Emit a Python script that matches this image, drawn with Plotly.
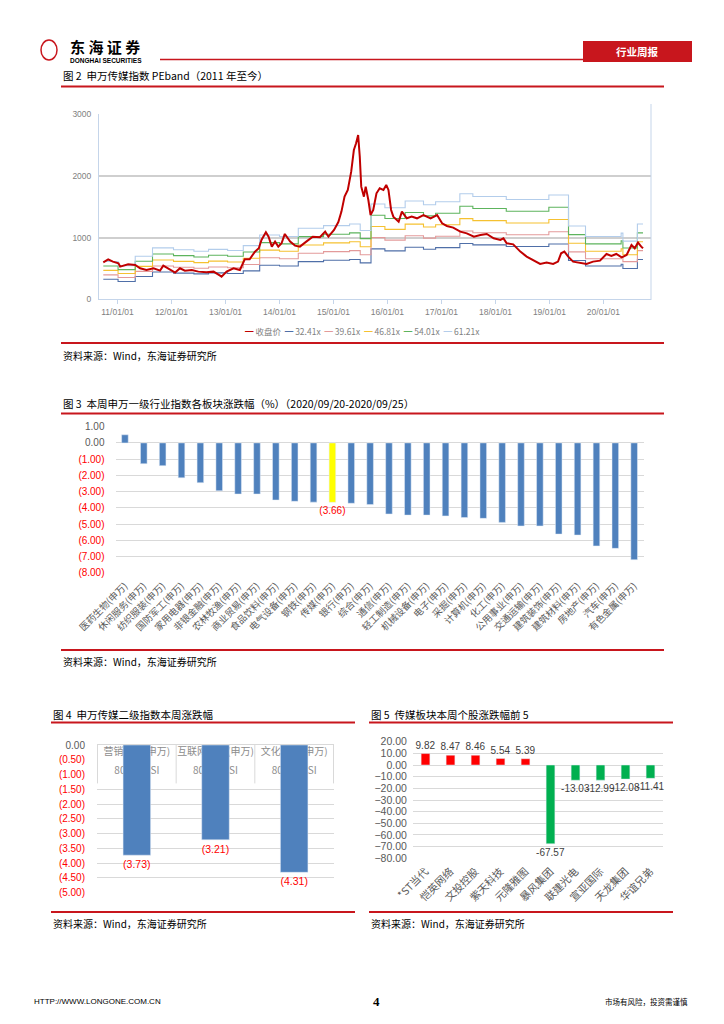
import plotly.graph_objects as go

# page is 724x1024; the html body adds an 8px margin, so the figure is 716x1016
W, H, OFF = 716, 1016, 8
CJK = "Noto Sans CJK SC"
NUM = "Liberation Sans"
NARROW = "Liberation Sans Narrow, Liberation Sans"
RED = "#C8161D"
GRID = "#D9D9D9"


def px(x):
    return (x - OFF) / W


def py(y):
    return 1 - (y - OFF) / H


# ---- 图2: 申万传媒指数 PEband ----
close_dates = [
    "2010-09-27", "2010-10-30", "2010-12-01",
    "2011-01-08", "2011-01-19", "2011-02-10", "2011-03-14", "2011-05-01", "2011-06-03",
    "2011-07-16", "2011-09-02", "2011-10-16", "2011-11-07", "2011-12-20",
    "2012-01-26", "2012-02-28", "2012-04-01", "2012-05-18", "2012-07-01", "2012-08-25",
    "2012-10-12", "2012-11-25", "2012-12-05",
    "2013-01-08", "2013-02-24", "2013-04-08", "2013-05-11", "2013-06-13", "2013-07-19",
    "2013-08-14", "2013-09-01", "2013-10-01", "2013-10-19", "2013-11-10", "2013-12-02", "2013-12-24",
    "2014-01-15", "2014-02-06", "2014-03-14", "2014-04-16", "2014-05-19", "2014-07-01",
    "2014-08-14", "2014-10-01", "2014-11-06", "2014-11-28",
    "2015-01-05", "2015-02-03", "2015-02-24", "2015-03-17", "2015-04-08", "2015-05-01",
    "2015-05-19", "2015-06-03", "2015-06-17", "2015-06-28", "2015-07-08", "2015-07-26",
    "2015-08-07", "2015-08-25", "2015-09-09", "2015-09-27", "2015-10-19", "2015-11-10",
    "2015-12-05", "2015-12-24",
    "2016-01-08", "2016-01-26", "2016-02-10", "2016-03-17", "2016-04-08", "2016-05-11",
    "2016-06-13", "2016-07-19", "2016-09-01", "2016-10-19", "2016-12-02",
    "2017-01-05", "2017-02-06", "2017-03-21", "2017-05-08", "2017-06-21", "2017-08-08",
    "2017-09-21", "2017-11-03", "2017-12-20",
    "2018-02-03", "2018-02-24", "2018-03-18", "2018-05-01", "2018-06-18", "2018-07-31",
    "2018-09-13", "2018-10-30", "2018-12-13",
    "2019-01-26", "2019-02-28", "2019-03-21", "2019-04-12", "2019-05-08", "2019-06-10",
    "2019-07-24", "2019-09-09", "2019-10-23", "2019-12-09",
    "2020-01-22", "2020-02-24", "2020-03-28", "2020-05-04", "2020-06-06", "2020-07-09",
    "2020-07-31", "2020-08-22", "2020-09-13", "2020-09-25",
]
close_vals = [
    599, 648, 610,
    583, 529, 545, 567, 556, 502, 475, 502, 464, 545, 486,
    432, 502, 464, 475, 448, 437, 448, 383, 367,
    448, 502, 475, 648, 648, 772, 826, 960, 1085, 1014, 853, 934, 853,
    907, 1058, 934, 869, 853, 934, 1014, 1004, 1095, 1014,
    1122, 1250, 1420, 1662, 1770, 2067, 2417, 2525, 2660, 2310, 1824, 1662, 1824, 1608,
    1365, 1446, 1716, 1797, 1770, 1851,
    1770, 1446, 1338, 1257, 1419, 1311, 1338, 1311, 1365, 1311, 1365,
    1230, 1187, 1160, 1095, 1068, 1014, 1041, 1058, 987,
    960, 987, 907, 890, 772, 691, 637, 572, 594,
    572, 610, 745, 772, 691, 610, 594, 572, 610, 626,
    734, 702, 734, 680, 718, 880, 826, 918, 853, 826,
]
# EPS steps (band = EPS x PE multiple)
eps_dates = [
    "2010-09-27", "2011-01-05", "2011-05-01", "2011-08-26", "2012-01-15", "2012-06-01",
    "2012-09-08", "2013-01-15", "2013-05-01", "2013-08-20", "2014-01-01", "2014-05-08",
    "2014-10-26", "2015-04-20", "2015-07-01", "2015-09-12", "2015-12-15", "2016-04-30",
    "2016-09-01", "2016-11-22", "2017-05-05", "2017-08-01", "2018-03-15", "2018-12-28",
    "2019-05-10", "2019-09-02", "2020-04-30", "2020-05-12", "2020-08-18", "2020-09-25",
]
eps_vals = [
    10.0, 8.9, 11.4, 13.6, 13.1, 12.7, 13.2, 12.9, 14.2, 17.0, 16.6, 18.8,
    19.5, 19.9, 18.2, 25.2, 24.2, 26.0, 25.0, 25.8, 27.9, 27.2, 26.4, 27.6,
    19.4, 16.6, 17.5, 15.4, 19.9, 19.9,
]
pe_multiples = [32.41, 39.61, 46.81, 54.01, 61.21]
band_names = ["32.41x", "39.61x", "46.81x", "54.01x", "61.21x"]
band_colors = ["#4F6FA8", "#E39A9A", "#F5C131", "#5DB45D", "#B3CDEB"]

# ---- 图3: 申万一级行业 ----
sw_industries = [
    "医药生物(申万)", "休闲服务(申万)", "纺织服装(申万)", "国防军工(申万)", "家用电器(申万)",
    "非银金融(申万)", "农林牧渔(申万)", "商业贸易(申万)", "食品饮料(申万)", "电气设备(申万)",
    "钢铁(申万)", "传媒(申万)", "银行(申万)", "综合(申万)", "通信(申万)", "轻工制造(申万)",
    "机械设备(申万)", "电子(申万)", "采掘(申万)", "计算机(申万)", "化工(申万)",
    "公用事业(申万)", "交通运输(申万)", "建筑装饰(申万)", "建筑材料(申万)", "房地产(申万)",
    "汽车(申万)", "有色金属(申万)",
]
sw_changes = [
    0.50, -1.28, -1.40, -2.15, -2.45, -2.95, -3.15, -3.15, -3.52, -3.60,
    -3.65, -3.66, -3.72, -3.80, -4.38, -4.45, -4.45, -4.50, -4.60, -4.65,
    -4.90, -5.12, -5.12, -5.62, -5.68, -6.35, -6.50, -7.20,
]
highlight = "传媒(申万)"

# ---- 图4: 申万传媒二级 ----
sub_names = ["营销传播(申万)", "互联网传媒(申万)", "文化传媒(申万)"]
sub_codes = ["801751.SI", "801752.SI", "801761.SI"]
sub_changes = [-3.73, -3.21, -4.31]

# ---- 图5: 个股涨跌幅前5 ----
stock_names = ["*ST当代", "恺英网络", "文投控股", "紫天科技", "元隆雅图",
               "暴风集团", "联建光电", "宣亚国际", "天龙集团", "华谊兄弟"]
stock_changes = [9.82, 8.47, 8.46, 5.54, 5.39, -67.57, -13.03, -12.99, -12.08, -11.41]


def paren(v):
    return f"({abs(v):.2f})" if v < 0 else f"{abs(v):.2f}"


def red_ticks(vals):
    return [f'<span style="color:#FF0000">{paren(v)}</span>' if v < 0 else paren(v)
            for v in vals]


fig = go.Figure()

# PE band lines
for mult, name, col in zip(pe_multiples, band_names, band_colors):
    fig.add_trace(go.Scatter(
        x=eps_dates, y=[e * mult for e in eps_vals], mode="lines", line_shape="hv",
        line=dict(color=col, width=1.1), name=name, xaxis="x", yaxis="y",
    ))
fig.add_trace(go.Scatter(
    x=close_dates, y=close_vals, mode="lines", line=dict(color="#C00000", width=2),
    name="收盘价", xaxis="x", yaxis="y",
))

# Fig 3 bars
fig.add_trace(go.Bar(
    x=sw_industries, y=sw_changes, xaxis="x2", yaxis="y2",
    marker=dict(color=["#FFFF00" if n == highlight else "#4F81BD" for n in sw_industries]),
    text=[paren(v) if n == highlight else "" for n, v in zip(sw_industries, sw_changes)],
    textposition="outside", textfont=dict(color="#FF0000", size=10, family=NUM),
    constraintext="none", cliponaxis=False,
))

# Fig 4 bars (category labels sit inside the plot, under the bars)
fig.add_trace(go.Bar(
    x=sub_names, y=sub_changes, xaxis="x3", yaxis="y3",
    marker=dict(color="#4F81BD"),
    text=[paren(v) for v in sub_changes], textposition="outside",
    textfont=dict(color="#FF0000", size=10.5, family=NUM),
    constraintext="none", cliponaxis=False,
))
# carriers: grid of fig 4 below the label band, and its value axis labels
fig.add_trace(go.Scatter(x=[], y=[], xaxis="x3", yaxis="y5", showlegend=False))
fig.add_trace(go.Scatter(x=[], y=[], xaxis="x6", yaxis="y6", showlegend=False))

# Fig 5 bars
fig.add_trace(go.Bar(
    x=stock_names, y=stock_changes, xaxis="x4", yaxis="y4",
    marker=dict(color=["#FF0000" if v > 0 else "#00B050" for v in stock_changes]),
    texttemplate="%{y:.2f}", textposition="outside",
    textfont=dict(color="#404040", size=10, family=NUM),
    constraintext="none", cliponaxis=False,
))

tick_font = dict(family=NUM, size=10, color="#595959")
fig4_ticks = [-0.5 * i for i in range(11)]
fig4_dom = [py(892.7), py(745)]

fig.update_layout(
    width=W, height=H, margin=dict(l=0, r=0, t=0, b=0),
    paper_bgcolor="white", plot_bgcolor="rgba(0,0,0,0)", showlegend=False,
    bargap=0.65,
    xaxis=dict(
        domain=[px(99), px(651)], anchor="y", type="date",
        range=["2010-08-29", "2020-11-18"], tick0="2011-01-01", dtick="M12",
        tickformat="%y/%m/%d", tickfont=dict(family=NARROW, size=8.5, color="#7F7F7F"),
        showgrid=False, showline=True, linecolor="#C5D5EA", linewidth=1,
        ticks="outside", ticklen=4, tickcolor="#C5D5EA",
    ),
    yaxis=dict(
        domain=[py(299.3), py(114)], anchor="x", range=[0, 3000],
        tickvals=[0, 1000, 2000, 3000], tickfont=dict(family=NARROW, size=8.5, color="#7F7F7F"),
        gridcolor="#CFCFCF", gridwidth=1.5, zeroline=False,
        showline=True, linecolor="#C5D5EA", ticks="outside", ticklen=5,
        tickcolor="rgba(0,0,0,0)",
    ),
    xaxis2=dict(
        domain=[px(115.5), px(643.6)], anchor="y2", type="category",
        tickangle=-45, tickfont=dict(family=CJK, size=9.5, color="#595959"),
        showgrid=False, showline=False, ticks="outside", ticklen=3,
        tickcolor="rgba(0,0,0,0)",
    ),
    yaxis2=dict(
        domain=[py(572.7), py(426.7)], anchor="x2", range=[-8, 1],
        tickvals=list(range(1, -9, -1)), ticktext=red_ticks(range(1, -9, -1)),
        tickfont=tick_font, gridcolor=GRID, zeroline=False,
        ticks="outside", ticklen=8, tickcolor="rgba(0,0,0,0)",
    ),
    xaxis3=dict(
        domain=[px(97), px(334)], anchor="y3", type="category", side="top",
        ticklabelposition="inside", layer="below traces",
        tickvals=sub_names,
        ticktext=[f'<span style="font-size:10px">{n}</span><br>'
                  f'<span style="font-size:10px">{c}</span>'
                  for n, c in zip(sub_names, sub_codes)],
        tickfont=dict(family=CJK, size=14.6, color="#8C8C8C"),
        showline=True, linecolor=GRID, showgrid=False, ticks="",
    ),
    yaxis3=dict(
        domain=fig4_dom, anchor="x3", range=[-5, 0],
        showticklabels=False, showgrid=False, zeroline=False, ticks="",
    ),
    yaxis5=dict(
        overlaying="y3", anchor="x3", range=[-5, 0],
        tickvals=fig4_ticks[3:], showticklabels=False,
        gridcolor=GRID, zeroline=False, showline=False, ticks="",
    ),
    xaxis6=dict(domain=[px(95), px(96)], anchor="y6", range=[0, 1], visible=False),
    yaxis6=dict(
        domain=fig4_dom, anchor="x6", range=[-5, 0],
        tickvals=fig4_ticks, ticktext=red_ticks(fig4_ticks),
        tickfont=tick_font, showgrid=False, zeroline=False, showline=False,
        ticks="outside", ticklen=7, tickcolor="rgba(0,0,0,0)",
    ),
    xaxis4=dict(
        domain=[px(413), px(663)], anchor="y4", type="category",
        tickangle=-45, tickfont=dict(family=CJK, size=10.5, color="#595959"),
        showgrid=False, showline=False, ticks="outside", ticklen=2,
        tickcolor="rgba(0,0,0,0)",
    ),
    yaxis4=dict(
        domain=[py(858.3), py(741.7)], anchor="x4", range=[-80, 20], dtick=10,
        tickformat=".2f", tickfont=dict(family=NUM, size=10.5, color="#595959"),
        gridcolor=GRID, zeroline=False, ticks="outside", ticklen=3,
        tickcolor="rgba(0,0,0,0)",
    ),
)
fig.update_xaxes(automargin=False)
fig.update_yaxes(automargin=False)

# dividers between the two-level labels of fig 4
for b in [-0.5, 0.5, 1.5, 2.5]:
    fig.add_shape(type="line", xref="x3", yref="y3", x0=b, x1=b, y0=0, y1=-1.3,
                  line=dict(color=GRID, width=1))
# right frame line of fig 2
fig.add_shape(type="line", xref="paper", yref="paper", x0=px(651), x1=px(651),
              y0=py(300), y1=py(104), line=dict(color="#C5D5EA", width=1))


def hline(x0, x1, y, width=2, color=RED):
    fig.add_shape(type="line", xref="paper", yref="paper", x0=px(x0), x1=px(x1),
                  y0=py(y), y1=py(y), line=dict(color=color, width=width))


def label(x, y, s, size=10.5, color="black", xanchor="left", family=CJK):
    fig.add_annotation(x=px(x), y=py(y), xref="paper", yref="paper", text=s,
                       showarrow=False, xanchor=xanchor, yanchor="middle",
                       font=dict(family=family, size=size, color=color))


# header
fig.add_shape(type="circle", xref="paper", yref="paper", x0=px(41), x1=px(57),
              y0=py(60), y1=py(40), line=dict(color=RED, width=1.5))
label(68, 46, "<b>东 海 证 券</b>", size=15)
label(68, 60, "<b>DONGHAI SECURITIES</b>", size=6.5, family=NUM)
hline(160, 583, 59.5, width=1.5)
fig.add_shape(type="rect", xref="paper", yref="paper", x0=px(583), x1=px(692),
              y0=py(62), y1=py(41), fillcolor=RED, line=dict(width=0))
label(637.5, 51.5, "<b>行业周报</b>", size=10.5, color="white", xanchor="center")

# figure titles, rules, sources
label(61, 75, "图 2  申万传媒指数 PEband（2011 年至今）")
hline(61, 664, 86.5)
legend_txt = ('<span style="color:#C00000"><b>━</b></span> 收盘价  '
              + "  ".join(f'<span style="color:{c}">━</span> {n}'
                          for n, c in zip(band_names, band_colors)))
label(362, 330.5, legend_txt, size=8.5, color="#7F7F7F", xanchor="center")
hline(61, 664, 343)
label(61, 355, "资料来源：Wind，东海证券研究所", size=10)

label(61, 403, "图 3  本周申万一级行业指数各板块涨跌幅（%）（2020/09/20-2020/09/25）")
hline(61, 664, 413.5)
hline(61, 664, 650)
label(61, 661, "资料来源：Wind，东海证券研究所", size=10)

label(51, 714, "图 4  申万传媒二级指数本周涨跌幅")
hline(51, 355, 722.5)
hline(51, 355, 912)
label(51, 923, "资料来源：Wind，东海证券研究所", size=10)

label(369, 714, "图 5  传媒板块本周个股涨跌幅前 5")
hline(369, 673, 722.5)
hline(369, 673, 912)
label(369, 923, "资料来源：Wind，东海证券研究所", size=10)

# footer
label(32, 1001, "HTTP://WWW.LONGONE.COM.CN", size=8, family=NARROW)
label(376, 1001, "<b>4</b>", size=13, xanchor="center", family="Liberation Serif")
label(690, 1001, "市场有风险，投资需谨慎", size=7.5, xanchor="right")

fig.write_html("out.html")
